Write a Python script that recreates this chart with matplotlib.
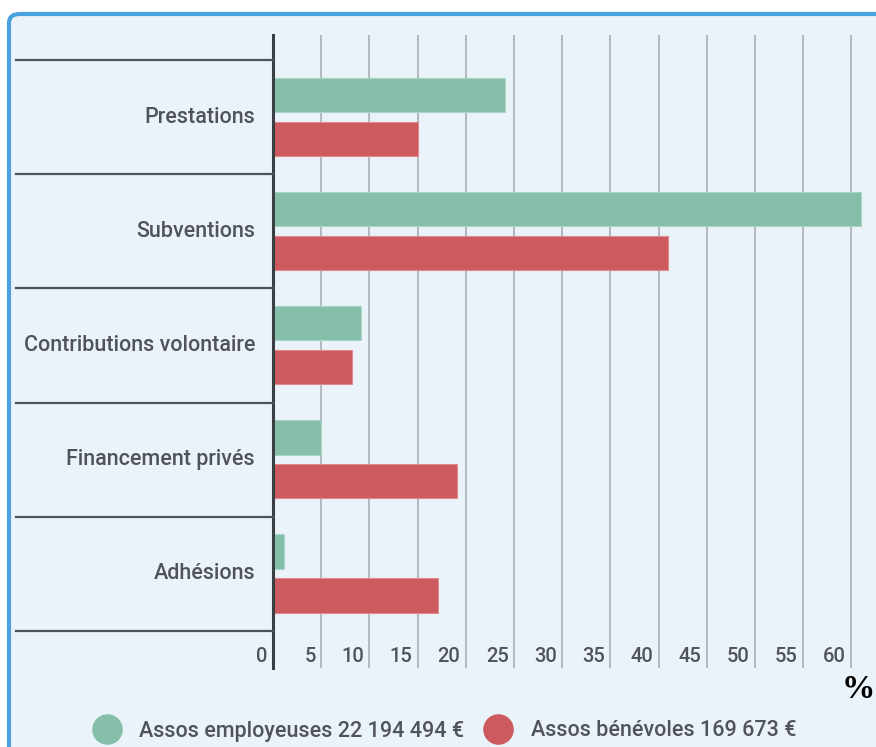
import matplotlib
matplotlib.use("Agg")
import matplotlib.pyplot as plt
from matplotlib.patches import FancyBboxPatch
from matplotlib.lines import Line2D
import matplotlib.transforms as mtransforms

# Données (en %)
categories = ["Prestations", "Subventions", "Contributions volontaire",
              "Financement privés", "Adhésions"]
employeuses = [24.1, 61.0, 9.1, 5.0, 1.1]
benevoles = [15.0, 41.0, 8.2, 19.1, 17.1]
ticks = list(range(0, 65, 5))
serie_labels = ["Assos employeuses 22 194 494 €", "Assos bénévoles 169 673 €"]

VERT = "#85bfaa"
ROUGE = "#cd5a5f"
GRIS_TXT = "#505357"

plt.rcParams['font.family'] = ['Roboto', 'DejaVu Sans']

W, H = 876, 747
fig = plt.figure(figsize=(W / 100, H / 100), dpi=100)
fig.patch.set_facecolor("white")

# cadre bleu clair arrondi (coupé à droite et en bas)
cadre = FancyBboxPatch((9 / W, -0.05), 1.2, 1 - 14 / H + 0.05,
                       boxstyle="round,pad=0,rounding_size=0.012",
                       transform=fig.transFigure, facecolor="#ebf3fa",
                       edgecolor="#4aa3df", linewidth=3, zorder=-10)
fig.patches.append(cadre)

# axe: x de 273 px au bord droit, y de 35 à 668 px
ax = fig.add_axes([273 / W, 1 - 668 / H, (W - 273) / W, (668 - 35) / H])
ax.set_facecolor("none")
ax.set_xlim(0, (W - 273) / 9.64)
ax.set_ylim(4.5 + 37 / 114, -0.5 - 25 / 114)

for s in ["top", "right", "bottom"]:
    ax.spines[s].set_visible(False)
ax.spines["left"].set_color("#3a3f44")
ax.spines["left"].set_linewidth(2.2)
ax.set_xticks([])
ax.set_yticks([])

for t in ticks[1:]:
    ax.axvline(t, color="#a4a9ae", lw=1.1, zorder=1)

pos = list(range(len(categories)))
h = 0.30
ax.barh([p - 0.195 for p in pos], employeuses, height=h, color=VERT,
        edgecolor="#a9d5c4", lw=0.8, zorder=2)
ax.barh([p + 0.19 for p in pos], benevoles, height=h, color=ROUGE,
        edgecolor="#e08a8e", lw=0.8, zorder=2)

# séparateurs de catégories à gauche
trans = mtransforms.blended_transform_factory(fig.transFigure, ax.transData)
for k in range(len(categories) + 1):
    ax.plot([16 / W, 273 / W], [k - 0.5, k - 0.5], transform=trans,
            color="#4d5257", lw=1.6, clip_on=False, zorder=3)

for p, c in zip(pos, categories):
    ax.text(255 / W, p, c, transform=trans, ha="right", va="center",
            fontsize=15.5, fontweight="medium", color=GRIS_TXT)

# étiquettes de l'axe x, à gauche de chaque ligne
ttrans = mtransforms.blended_transform_factory(ax.transData, fig.transFigure)
for t in ticks:
    ax.text(t - 0.55, 1 - 657 / H, str(t), transform=ttrans, ha="right",
            va="center", fontsize=14.5, fontweight="medium", color=GRIS_TXT)

fig.text(858 / W, 1 - 690 / H, "%", ha="center", va="center",
         fontsize=24, fontweight="bold", family=["Liberation Serif", "DejaVu Serif"],
         color="black")

handles = [Line2D([], [], ls="none", marker="o", ms=21, color=VERT),
           Line2D([], [], ls="none", marker="o", ms=21, color=ROUGE)]
fig.legend(handles, serie_labels, loc="center", bbox_to_anchor=(0.503, 1 - 731 / H),
           ncol=2, frameon=False, fontsize=15.5, labelcolor=GRIS_TXT,
           prop={"size": 15.5, "weight": "medium"},
           handletextpad=0.5, columnspacing=0.6, borderpad=0)

fig.savefig("out.png", dpi=100)
